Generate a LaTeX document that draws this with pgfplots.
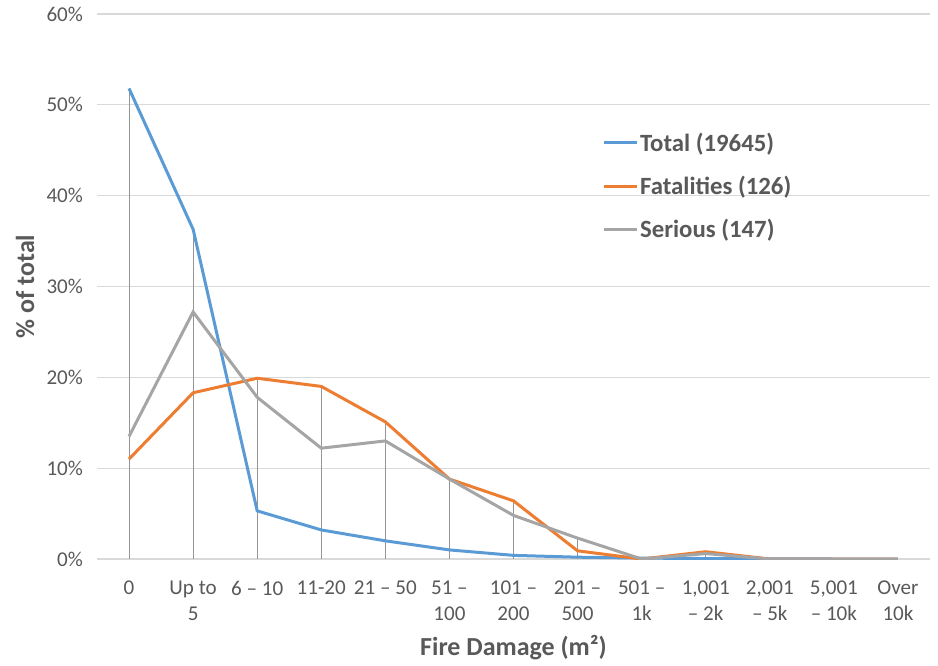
\documentclass[border=0pt]{standalone}
\usepackage{fontspec}
\setmainfont{Carlito}
\usepackage{pgfplots}
\pgfplotsset{compat=1.18}
\definecolor{cblue}{HTML}{5B9BD5}
\definecolor{corange}{HTML}{ED7D31}
\definecolor{cgray}{HTML}{A5A5A5}
\definecolor{ctext}{HTML}{595959}
\definecolor{cgrid}{HTML}{D9D9D9}
\definecolor{cdrop}{HTML}{959595}
\begin{document}
\begin{tikzpicture}
\begin{axis}[
  scale only axis, width=624.75pt, height=408.75pt,
  xmin=-0.5, xmax=12.5, ymin=0, ymax=60,
  axis line style={draw=none},
  major tick length=0pt,
  ymajorgrids, grid style={cgrid, line width=0.9pt},
  ytick={0,10,20,30,40,50,60},
  yticklabels={0\%,10\%,20\%,30\%,40\%,50\%,60\%},
  xtick={0,1,2,3,4,5,6,7,8,9,10,11,12},
  xticklabels={0,{Up to\\5},6 – 10,11-20,21 – 50,{51 –\\100},{101 –\\200},{201 –\\500},{501 –\\1k},{1,001\\– 2k},{2,001\\– 5k},{5,001\\– 10k},{Over\\10k}},
  ticklabel style={font=\fontsize{15.8}{19.5}\selectfont, text=ctext},
  xticklabel style={align=center, anchor=north, yshift=-13pt},
  yticklabel style={anchor=east, xshift=-7pt},
  xlabel={Fire Damage (m²)},
  ylabel={\% of total},
  label style={font=\bfseries\fontsize{19.5}{23}\selectfont, text=ctext},
  xlabel style={at={(axis description cs:0.5,-0.163)}, anchor=center},
  ylabel style={at={(axis description cs:-0.0864,0.5)}, anchor=center},
  legend cell align=left,
  legend style={draw=none, fill=none, at={(0.6016,0.79)}, anchor=north west,
    font=\bfseries\fontsize{18.6}{22}\selectfont, text=ctext, row sep=15pt,
    nodes={inner sep=1pt}},
  legend image code/.code={\draw[#1] (0pt,0pt) -- (25pt,0pt);},
]
\addplot[ycomb, cdrop, line width=0.7pt, forget plot] coordinates {
 (0,51.8) (1,36.3) (2,19.9) (3,19.0) (4,15.1) (5,8.8) (6,6.4) (7,2.3) (8,0.1) (9,0.8) (10,0.02) (11,0) (12,0)};
\addplot[cblue, line width=2.25pt] coordinates {
 (0,51.8) (1,36.3) (2,5.3) (3,3.2) (4,2.0) (5,1.0) (6,0.4) (7,0.2) (8,0.1) (9,0.05) (10,0.02) (11,0) (12,0)};
\addplot[corange, line width=2.25pt] coordinates {
 (0,11.0) (1,18.3) (2,19.9) (3,19.0) (4,15.1) (5,8.8) (6,6.4) (7,0.9) (8,0) (9,0.8) (10,0) (11,0) (12,0)};
\addplot[cgray, line width=2.25pt] coordinates {
 (0,13.5) (1,27.2) (2,17.8) (3,12.2) (4,13.0) (5,8.8) (6,4.8) (7,2.3) (8,0) (9,0.6) (10,0) (11,0) (12,0)};
\legend{Total (19645),Fatalities (126),Serious (147)}
\end{axis}
\pgfresetboundingbox
\useasboundingbox (-72.75pt,-79.5pt) rectangle (630.75pt,419.25pt);
\end{tikzpicture}
\end{document}
